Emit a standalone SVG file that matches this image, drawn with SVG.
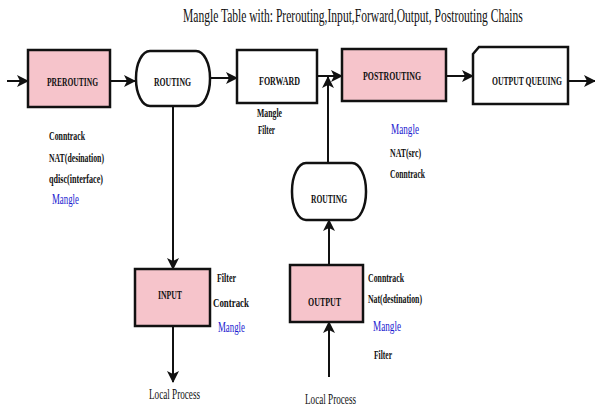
<svg xmlns="http://www.w3.org/2000/svg" width="595" height="406" viewBox="0 0 595 406">
<defs>
<style>
.box{fill:#fff;stroke:#111;stroke-width:2.5}
.pink{fill:#f6c4cb}
.t{font-family:"Liberation Serif","Times New Roman",serif;font-weight:bold;fill:#111}
.lbl{font-size:11.5px}
.note{font-size:11.5px}
.blue{fill:#1a1ad0;font-weight:normal;font-size:14.5px}
.title{font-size:18px;font-weight:normal}
.lp{font-size:14px;font-weight:normal}
.ln{stroke:#111;stroke-width:2;fill:none;marker-end:url(#ah)}
</style>
<marker id="ah" markerUnits="userSpaceOnUse" markerWidth="12" markerHeight="12" refX="11" refY="6" orient="auto">
<path d="M0,0 L12,6 L0,12 L3,6 Z" fill="#111"/>
</marker>
</defs>
<rect width="595" height="406" fill="#fff"/>
<text class="t title" transform="translate(183,22) scale(0.62,1)" x="0" y="0" textLength="548" lengthAdjust="spacingAndGlyphs">Mangle Table with: Prerouting,Input,Forward,Output, Postrouting Chains</text>

<g id="connectors">
<line class="ln" x1="7" y1="81" x2="28" y2="81"/>
<line class="ln" x1="110" y1="81" x2="135" y2="81"/>
<line class="ln" x1="210" y1="78" x2="237" y2="78"/>
<line class="ln" x1="317" y1="76" x2="342" y2="76"/>
<line class="ln" x1="446" y1="76" x2="473" y2="76"/>
<line class="ln" x1="568" y1="81" x2="595" y2="81"/>
<line class="ln" x1="328" y1="163" x2="328" y2="77"/>
<line class="ln" x1="173" y1="106" x2="173" y2="269"/>
<line class="ln" x1="173" y1="326" x2="173" y2="382"/>
<line class="ln" x1="329" y1="377" x2="329" y2="322"/>
<line class="ln" x1="329" y1="264" x2="329" y2="220"/>
</g>

<g id="prerouting">
<rect class="box pink" x="28" y="50" width="82" height="57"/>
<text class="t lbl" x="47" y="86" textLength="51" lengthAdjust="spacingAndGlyphs">PREROUTING</text>
<text class="t note" x="49" y="140" textLength="36" lengthAdjust="spacingAndGlyphs">Conntrack</text>
<text class="t note" x="49" y="162" textLength="55" lengthAdjust="spacingAndGlyphs">NAT(desination)</text>
<text class="t note" x="49" y="183" textLength="54" lengthAdjust="spacingAndGlyphs">qdisc(interface)</text>
<text class="t blue" x="52" y="204" textLength="27" lengthAdjust="spacingAndGlyphs">Mangle</text>
</g>

<g id="routing1">
<rect class="box" x="136" y="51" width="74" height="55" rx="14" ry="27"/>
<text class="t lbl" x="154" y="86" textLength="37" lengthAdjust="spacingAndGlyphs">ROUTING</text>
</g>

<g id="forward">
<rect class="box" x="237" y="50" width="80" height="53"/>
<text class="t lbl" x="259" y="85" textLength="41" lengthAdjust="spacingAndGlyphs">FORWARD</text>
<text class="t note" x="257" y="117" textLength="25" lengthAdjust="spacingAndGlyphs">Mangle</text>
<text class="t note" x="258" y="134" textLength="17" lengthAdjust="spacingAndGlyphs">Filter</text>
</g>

<g id="postrouting">
<rect class="box pink" x="342" y="49" width="104" height="52"/>
<text class="t lbl" x="363" y="80" textLength="58" lengthAdjust="spacingAndGlyphs">POSTROUTING</text>
<text class="t blue" x="391" y="134" textLength="28" lengthAdjust="spacingAndGlyphs">Mangle</text>
<text class="t note" x="390" y="157" textLength="31" lengthAdjust="spacingAndGlyphs">NAT(src)</text>
<text class="t note" x="390" y="178" textLength="35" lengthAdjust="spacingAndGlyphs">Conntrack</text>
</g>

<g id="output-queuing">
<path class="box" d="M473,54 L479,47 H568 V104 H473 Z"/>
<text class="t lbl" transform="translate(492,85) scale(0.7,1)" x="0" y="0" textLength="100" lengthAdjust="spacingAndGlyphs">OUTPUT QUEUING</text>
</g>

<g id="routing2">
<rect class="box" x="292" y="163" width="74" height="57" rx="14" ry="28"/>
<text class="t lbl" x="311" y="203" textLength="36" lengthAdjust="spacingAndGlyphs">ROUTING</text>
</g>

<g id="input">
<rect class="box pink" x="135" y="269" width="75" height="57"/>
<text class="t lbl" x="158" y="299" textLength="24" lengthAdjust="spacingAndGlyphs">INPUT</text>
<text class="t note" x="217" y="282" textLength="19" lengthAdjust="spacingAndGlyphs">Filter</text>
<text class="t note" x="213" y="307" textLength="36" lengthAdjust="spacingAndGlyphs">Contrack</text>
<text class="t blue" x="218" y="332" textLength="27" lengthAdjust="spacingAndGlyphs">Mangle</text>
<text class="t lp" x="149" y="399" textLength="51" lengthAdjust="spacingAndGlyphs">Local Process</text>
</g>

<g id="output">
<rect class="box pink" x="290" y="265" width="73" height="57"/>
<text class="t lbl" x="308" y="306" textLength="33" lengthAdjust="spacingAndGlyphs">OUTPUT</text>
<text class="t note" x="368" y="282" textLength="36" lengthAdjust="spacingAndGlyphs">Conntrack</text>
<text class="t note" x="368" y="303" textLength="54" lengthAdjust="spacingAndGlyphs">Nat(destination)</text>
<text class="t blue" x="373" y="331" textLength="28" lengthAdjust="spacingAndGlyphs">Mangle</text>
<text class="t note" x="374" y="359" textLength="18" lengthAdjust="spacingAndGlyphs">Filter</text>
<text class="t lp" x="305" y="404" textLength="51" lengthAdjust="spacingAndGlyphs">Local Process</text>
</g>
</svg>
